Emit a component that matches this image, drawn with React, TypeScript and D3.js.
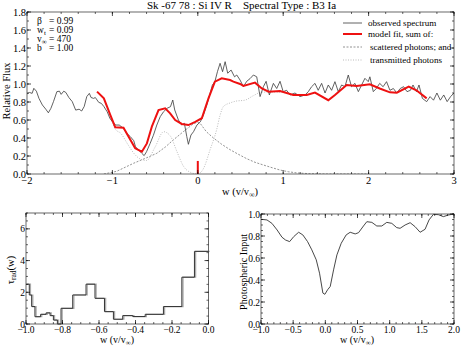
import React from "react";
import * as d3 from "d3";

// ---------- Data ----------
const obsW = [-2.0,-1.97,-1.94,-1.92,-1.89,-1.86,-1.82,-1.78,-1.75,-1.72,-1.69,-1.65,-1.62,-1.60,-1.57,-1.545,-1.51,-1.47,-1.43,-1.39,-1.36,-1.33,-1.30,-1.27,-1.25,-1.22,-1.20,-1.16,-1.13,-1.10,-1.06,-1.03,-1.00,-0.96,-0.92,-0.87,-0.83,-0.79,-0.75,-0.73,-0.695,-0.656,-0.628,-0.60,-0.558,-0.52,-0.48,-0.44,-0.40,-0.36,-0.32,-0.293,-0.27,-0.227,-0.188,-0.157,-0.129,-0.11,-0.08,-0.05,-0.01,0.03,0.066,0.105,0.144,0.171,0.2,0.23,0.261,0.29,0.32,0.35,0.39,0.43,0.456,0.495,0.534,0.573,0.612,0.651,0.69,0.729,0.768,0.80,0.838,0.885,0.924,0.963,1.0,1.04,1.08,1.138,1.197,1.255,1.294,1.333,1.372,1.41,1.45,1.49,1.528,1.567,1.606,1.645,1.684,1.723,1.762,1.80,1.84,1.88,1.918,1.957,1.996,2.015,2.055,2.09,2.13,2.17,2.21,2.25,2.29,2.33,2.37,2.41,2.45,2.49,2.52,2.56,2.59,2.63,2.68,2.72,2.76,2.80,2.84,2.88,2.92,2.96,3.0];
const obsF = [0.89,0.906,0.896,0.952,0.92,0.84,0.767,0.72,0.68,0.73,0.804,0.915,0.92,0.885,0.92,0.906,0.85,0.804,0.71,0.72,0.70,0.75,0.86,0.896,0.85,0.84,0.85,0.796,0.785,0.75,0.69,0.62,0.58,0.544,0.544,0.507,0.45,0.415,0.37,0.304,0.267,0.23,0.204,0.248,0.34,0.43,0.544,0.637,0.693,0.73,0.748,0.822,0.711,0.6,0.544,0.563,0.415,0.33,0.433,0.47,0.544,0.58,0.656,0.767,0.896,0.989,1.026,1.137,1.23,1.137,1.248,1.12,1.155,1.08,1.1,1.044,0.97,1.03,1.06,1.1,1.08,0.86,0.97,1.03,0.878,1.007,0.95,1.03,0.915,0.93,0.878,0.9,0.86,0.878,0.915,0.97,1.007,0.93,1.007,0.9,0.989,0.93,1.026,0.915,0.989,0.97,1.1,0.97,1.007,0.915,0.989,1.063,1.026,1.08,0.915,0.95,1.007,0.97,1.026,0.93,0.95,0.9,0.95,0.97,0.915,0.93,0.989,0.915,0.989,0.84,0.804,0.86,0.82,0.9,0.82,0.878,0.804,0.86,0.9];

const fitW = [-1.18,-1.10,-1.025,-0.967,-0.87,-0.81,-0.733,-0.655,-0.596,-0.538,-0.46,-0.382,-0.324,-0.265,-0.187,-0.11,-0.03,0.047,0.125,0.2,0.28,0.378,0.417,0.495,0.534,0.67,0.75,0.83,0.963,1.118,1.275,1.372,1.528,1.606,1.743,1.86,2.015,2.13,2.25,2.33,2.47,2.56,2.68];
const fitF = [0.915,0.84,0.656,0.52,0.515,0.415,0.285,0.248,0.34,0.526,0.71,0.73,0.674,0.6,0.556,0.544,0.58,0.62,0.84,1.026,1.063,1.044,1.026,1.0,0.978,1.015,0.95,0.915,0.922,0.878,0.878,0.904,0.82,0.878,0.989,0.978,0.996,0.95,0.907,0.904,0.97,0.93,0.84];

const scatW = [-1.1,-0.95,-0.75,-0.6,-0.48,-0.38,-0.285,-0.17,-0.05,0.0,0.03,0.1,0.183,0.28,0.378,0.473,0.573,0.67,0.768,0.87,0.963,1.06,1.16,1.3,1.5,2.0];
const scatF = [0,0.03,0.12,0.18,0.23,0.3,0.38,0.47,0.56,0.575,0.56,0.47,0.4,0.33,0.27,0.22,0.17,0.13,0.1,0.07,0.044,0.025,0.012,0.004,0,0];

const transW = [-1.18,-1.10,-1.025,-0.967,-0.90,-0.82,-0.74,-0.68,-0.60,-0.50,-0.40,-0.32,-0.245,-0.17,-0.09,0.0,0.066,0.144,0.22,0.26,0.30,0.38,0.45,0.55,0.65,0.75,0.85,0.96,1.12];
const transF = [0.91,0.83,0.64,0.5,0.45,0.33,0.22,0.17,0.15,0.30,0.47,0.42,0.25,0.09,0.02,0.0,0.06,0.27,0.49,0.65,0.75,0.79,0.81,0.82,0.87,0.91,0.91,0.91,0.875];

const tauEdges = [-1.0,-0.982,-0.969,-0.951,-0.92,-0.89,-0.868,-0.85,-0.828,-0.808,-0.744,-0.671,-0.622,-0.570,-0.521,-0.47,-0.415,-0.347,-0.247,-0.146,-0.077,0.0];
const tauVals = [2.51,1.83,1.1,0.46,0.61,0.7,0.53,0.25,0.0,0.99,1.83,2.51,1.62,0.78,0.3,0.53,0.47,0.61,1.1,2.95,4.58];

const photW = [-1.0,-0.907,-0.83,-0.75,-0.674,-0.62,-0.555,-0.49,-0.415,-0.35,-0.276,-0.21,-0.141,-0.09,-0.038,-0.007,0.035,0.076,0.128,0.18,0.247,0.324,0.386,0.464,0.516,0.593,0.645,0.723,0.8,0.878,0.955,1.033,1.11,1.162,1.24,1.318,1.395,1.473,1.55,1.612,1.68,1.757,1.835,1.913,2.0];
const photF = [0.952,0.946,0.915,0.855,0.789,0.764,0.749,0.795,0.834,0.81,0.749,0.674,0.583,0.462,0.281,0.27,0.311,0.341,0.492,0.628,0.734,0.81,0.834,0.819,0.83,0.891,0.93,0.924,0.891,0.891,0.924,0.915,0.876,0.87,0.9,0.921,0.885,0.834,0.861,0.946,0.997,0.994,0.976,0.991,1.0];

const mainXTicks = [-2, -1, 0, 1, 2, 3];
const mainYTicks = [0, 0.2, 0.4, 0.6, 0.8, 1.0, 1.2, 1.4, 1.6, 1.8];
const tauXTicks = [-1.0, -0.8, -0.6, -0.4, -0.2, 0.0];
const tauYTicks = [0, 2, 4, 6];
const photXTicks = [-1.0, -0.5, 0.0, 0.5, 1.0, 1.5, 2.0];
const photYTicks = [0, 0.2, 0.4, 0.6, 0.8, 1.0];

const FONT = "'Liberation Serif', 'Times New Roman', serif";

function fmtMinus(s: string) {
  return s.replace("-", "\u2212");
}

type FrameProps = {
  x: d3.ScaleLinear<number, number>;
  y: d3.ScaleLinear<number, number>;
  xMajor: number[];
  yMajor: number[];
  xMinor: number[];
  yMinor: number[];
  xFmt: (v: number) => string;
  yFmt: (v: number) => string;
  fs: number;
  xOff: number;
};

function Frame({ x, y, xMajor, yMajor, xMinor, yMinor, xFmt, yFmt, fs, xOff }: FrameProps) {
  const [x0, x1] = x.range();
  const [y0, y1] = y.range(); // y0 bottom, y1 top
  const els: React.ReactNode[] = [];
  xMinor.forEach((v, i) => {
    const px = x(v);
    els.push(<line key={"xm" + i} x1={px} x2={px} y1={y0} y2={y0 - 2} stroke="#000" strokeWidth={0.6} />);
    els.push(<line key={"xmt" + i} x1={px} x2={px} y1={y1} y2={y1 + 2} stroke="#000" strokeWidth={0.6} />);
  });
  yMinor.forEach((v, i) => {
    const py = y(v);
    els.push(<line key={"ym" + i} x1={x0} x2={x0 + 2} y1={py} y2={py} stroke="#000" strokeWidth={0.6} />);
    els.push(<line key={"ymr" + i} x1={x1} x2={x1 - 2} y1={py} y2={py} stroke="#000" strokeWidth={0.6} />);
  });
  xMajor.forEach((v, i) => {
    const px = x(v);
    els.push(<line key={"xM" + i} x1={px} x2={px} y1={y0} y2={y0 - 4} stroke="#000" strokeWidth={0.7} />);
    els.push(<line key={"xMt" + i} x1={px} x2={px} y1={y1} y2={y1 + 4} stroke="#000" strokeWidth={0.7} />);
    els.push(
      <text key={"xl" + i} x={px} y={y0 + xOff} textAnchor="middle" fontSize={fs} fontFamily={FONT}>
        {xFmt(v)}
      </text>
    );
  });
  yMajor.forEach((v, i) => {
    const py = y(v);
    els.push(<line key={"yM" + i} x1={x0} x2={x0 + 4} y1={py} y2={py} stroke="#000" strokeWidth={0.7} />);
    els.push(<line key={"yMr" + i} x1={x1} x2={x1 - 4} y1={py} y2={py} stroke="#000" strokeWidth={0.7} />);
    els.push(
      <text key={"yl" + i} x={x0 - 1} y={py + 3.5} textAnchor="end" fontSize={fs} fontFamily={FONT}>
        {yFmt(v)}
      </text>
    );
  });
  return (
    <g>
      <rect x={x0} y={y1} width={x1 - x0} height={y0 - y1} fill="none" stroke="#444" strokeWidth={0.8} />
      {els}
    </g>
  );
}

function range(a: number, b: number, s: number) {
  const out: number[] = [];
  const n = Math.round((b - a) / s);
  for (let i = 0; i <= n; i++) out.push(+(a + i * s).toFixed(6));
  return out;
}

export default function App() {
  // Main panel
  const mx = d3.scaleLinear().domain([-2, 3]).range([27, 454]);
  const my = d3.scaleLinear().domain([0, 1.8]).range([174, 12]);
  const line = (xs: d3.ScaleLinear<number, number>, ys: d3.ScaleLinear<number, number>, curve = d3.curveLinear) =>
    d3.line<[number, number]>().x((d) => xs(d[0])).y((d) => ys(d[1])).curve(curve);

  const obs = obsW.map((w, i) => [w, obsF[i]] as [number, number]);
  const fit = fitW.map((w, i) => [w, fitF[i]] as [number, number]);
  const scat = scatW.map((w, i) => [w, scatF[i]] as [number, number]);
  const trans = transW.map((w, i) => [w, transF[i]] as [number, number]);

  // Tau panel
  const tx = d3.scaleLinear().domain([-1, 0]).range([26, 208.5]);
  const ty = d3.scaleLinear().domain([0, 7]).range([324, 213]);
  const stepPts: [number, number][] = [];
  tauVals.forEach((v, i) => {
    stepPts.push([tauEdges[i], v]);
    stepPts.push([tauEdges[i + 1], v]);
  });
  const stepPath = line(tx, ty)(stepPts) || "";

  // Photospheric panel
  const px = d3.scaleLinear().domain([-1, 2]).range([261, 454]);
  const py = d3.scaleLinear().domain([0, 1]).range([324, 214]);
  const phot = photW.map((w, i) => [w, photF[i]] as [number, number]);

  const fmt1 = (v: number) => fmtMinus(v.toFixed(1));
  const fmt0 = (v: number) => fmtMinus(v.toFixed(0));

  return (
    <svg width={462} height={347} style={{ position: "absolute", left: 0, top: 0, background: "#fff" }}>
      <rect x={0} y={0} width={462} height={347} fill="#fff" />
      {/* Title */}
      <text x={147} y={9} fontSize={11} fontFamily={FONT}>Sk -67 78 : Si IV R</text>
      <text x={243} y={9} fontSize={11} fontFamily={FONT}>Spectral Type : B3 Ia</text>

      {/* Main panel */}
      <defs>
        <clipPath id="mainClip">
          <rect x={27} y={12} width={427} height={162} />
        </clipPath>
      </defs>
      <g clipPath="url(#mainClip)">
        <path d={line(mx, my)(scat) || ""} fill="none" stroke="#777" strokeWidth={0.8} strokeDasharray="2,1.5" />
        <path d={line(mx, my, d3.curveMonotoneX)(trans) || ""} fill="none" stroke="#aaa" strokeWidth={0.8} strokeDasharray="1,1.5" />
        <path d={line(mx, my)(obs) || ""} fill="none" stroke="#3a3a3a" strokeWidth={0.8} />
        <path d={line(mx, my)(fit) || ""} fill="none" stroke="#ee1111" strokeWidth={2} />
        <line x1={mx(0)} x2={mx(0)} y1={my(0)} y2={my(0.145)} stroke="#ee1111" strokeWidth={2} />
      </g>
      <Frame
        x={mx}
        y={my}
        xMajor={mainXTicks}
        yMajor={mainYTicks}
        xMinor={range(-2, 3, 0.2)}
        yMinor={range(0, 1.8, 0.1)}
        xFmt={fmt0}
        yFmt={fmt1}
        fs={10.5}
        xOff={10}
      />
      {/* Parameters */}
      <g fontSize={9.5} fontFamily={FONT}>
        <text x={37} y={24}>β</text>
        <text x={49} y={24}>= 0.99</text>
        <text x={37} y={33}>w<tspan fontSize={7} dy={2}>t</tspan></text>
        <text x={49} y={33}>= 0.09</text>
        <text x={37} y={42}>v<tspan fontSize={7} dy={2}>∞</tspan></text>
        <text x={49} y={42}>= 470</text>
        <text x={37} y={51}>b</text>
        <text x={49} y={51}>= 1.00</text>
      </g>
      {/* Legend */}
      <g fontSize={9.1} fontFamily={FONT}>
        <line x1={343} x2={362} y1={23} y2={23} stroke="#3a3a3a" strokeWidth={0.8} />
        <text x={368} y={26}>observed spectrum</text>
        <line x1={343} x2={362} y1={34} y2={34} stroke="#ee1111" strokeWidth={2} />
        <text x={368} y={37}>model fit, sum of:</text>
        <line x1={343} x2={362} y1={47} y2={47} stroke="#777" strokeWidth={0.8} strokeDasharray="2,1.5" />
        <text x={370} y={50}>scattered photons; and</text>
        <line x1={343} x2={362} y1={60} y2={60} stroke="#aaa" strokeWidth={0.8} strokeDasharray="1,1.5" />
        <text x={370} y={63}>transmitted photons</text>
      </g>
      {/* Axis labels main */}
      <text x={240} y={195} textAnchor="middle" fontSize={10.5} fontFamily={FONT}>
        w (v/v<tspan fontSize={7.5} dy={2}>∞</tspan><tspan dy={-2}>)</tspan>
      </text>
      <text transform="translate(10,91) rotate(-90)" textAnchor="middle" fontSize={10.5} fontFamily={FONT}>
        Relative Flux
      </text>

      {/* Tau panel */}
      <path d={stepPath} fill="none" stroke="#aaa" strokeWidth={1.2} transform="translate(1.2,0)" />
      <path d={stepPath} fill="none" stroke="#333" strokeWidth={1} />
      <Frame
        x={tx}
        y={ty}
        xMajor={tauXTicks}
        yMajor={tauYTicks}
        xMinor={range(-1, 0, 0.05)}
        yMinor={range(0, 7, 0.5)}
        xFmt={fmt1}
        yFmt={fmt0}
        fs={9.5}
        xOff={9}
      />
      <text x={117} y={343} textAnchor="middle" fontSize={10} fontFamily={FONT}>
        w (v/v<tspan fontSize={7} dy={2}>∞</tspan><tspan dy={-2}>)</tspan>
      </text>
      <text transform="translate(14,270) rotate(-90)" textAnchor="middle" fontSize={10.5} fontFamily={FONT}>
        τ<tspan fontSize={7.5} dy={2}>rad</tspan><tspan dy={-2}>(w)</tspan>
      </text>

      {/* Photospheric panel */}
      <path d={line(px, py)(phot) || ""} fill="none" stroke="#333" strokeWidth={0.9} />
      <Frame
        x={px}
        y={py}
        xMajor={photXTicks}
        yMajor={photYTicks}
        xMinor={range(-1, 2, 0.1)}
        yMinor={range(0, 1, 0.05)}
        xFmt={fmt1}
        yFmt={fmt1}
        fs={9.5}
        xOff={9}
      />
      <text x={357} y={343} textAnchor="middle" fontSize={10} fontFamily={FONT}>
        w (v/v<tspan fontSize={7} dy={2}>∞</tspan><tspan dy={-2}>)</tspan>
      </text>
      <text transform="translate(247,272) rotate(-90)" textAnchor="middle" fontSize={10} fontFamily={FONT}>
        Photospheric Input
      </text>
    </svg>
  );
}
